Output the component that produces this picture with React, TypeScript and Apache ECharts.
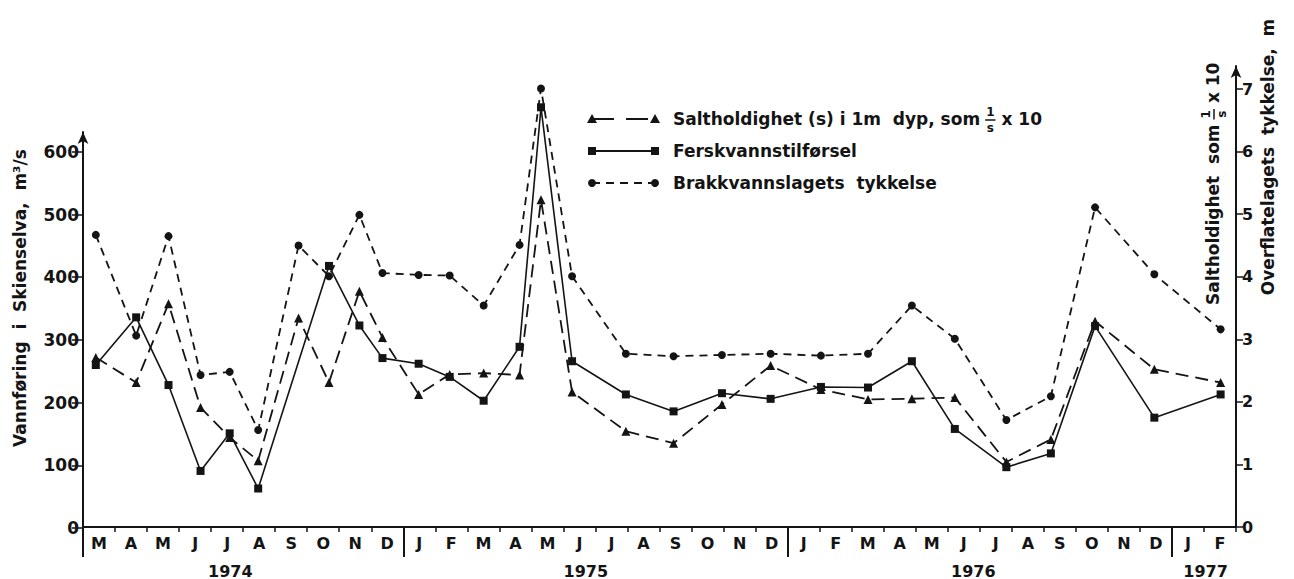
import React, { useEffect, useRef } from 'react';
import * as echarts from 'echarts';

// ---------- data ----------
const monthLetters = [
  'M', 'A', 'M', 'J', 'J', 'A', 'S', 'O', 'N', 'D',
  'J', 'F', 'M', 'A', 'M', 'J', 'J', 'A', 'S', 'O', 'N', 'D',
  'J', 'F', 'M', 'A', 'M', 'J', 'J', 'A', 'S', 'O', 'N', 'D',
  'J', 'F',
];
const yearNames = ['1974', '1975', '1976', '1977'];
const yearStartMonth = [0, 10, 22, 34];
const yearLabelMonth = [4.6, 15.7, 27.8, 35.05];
const leftTicks = [0, 100, 200, 300, 400, 500, 600];
const rightTicks = [0, 1, 2, 3, 4, 5, 6, 7];

// months elapsed since 1 March 1974 at each sampling
const sampleMonth = [
  0.4, 1.66, 2.67, 3.67, 4.58, 5.47, 6.73, 7.68, 8.63, 9.35,
  10.48, 11.45, 12.51, 13.63, 14.3, 15.27, 16.95, 18.44, 19.95, 21.47,
  23.04, 24.51, 25.88, 27.22, 28.83, 30.22, 31.6, 33.45, 35.52,
];
// Ferskvannstilførsel, m3/s (left axis)
const freshwater: (number | null)[] = [
  260, 336, 228, 91, 151, 63, null, 418, 323, 271,
  262, 241, 203, 289, 671, 266, 213, 186, 215, 206,
  225, 224, 266, 158, 97, 119, 322, 176, 213,
];
// Saltholdighet som 1/s x 10 (right axis)
const salinity = [
  2.71, 2.31, 3.57, 1.91, 1.43, 1.06, 3.34, 2.31, 3.77, 3.03,
  2.12, 2.44, 2.46, 2.43, 5.23, 2.16, 1.53, 1.34, 1.96, 2.58,
  2.2, 2.04, 2.05, 2.07, 1.04, 1.4, 3.29, 2.52, 2.31,
];
// Brakkvannslagets tykkelse, m (right axis)
const brackish = [
  4.67, 3.06, 4.65, 2.43, 2.48, 1.55, 4.5, 4.01, 4.99, 4.06,
  4.03, 4.02, 3.54, 4.51, 7.01, 4.01, 2.77, 2.73, 2.75, 2.77,
  2.74, 2.77, 3.54, 3.01, 1.71, 2.09, 5.11, 4.04, 3.16,
];

// ---------- styling ----------
const INK = '#141414';
const FONT = '"DejaVu Sans", "Liberation Sans", sans-serif';
const SALT_DASH = [13, 7];
const BRAKK_DASH = [8, 6];
const TITLE_SIZE = 17;
const AXIS_SIZE = 16;

function measure(text: string, size: number) {
  const ctx = document.createElement('canvas').getContext('2d');
  if (!ctx) return text.length * size * 0.65;
  ctx.font = `bold ${size}px "DejaVu Sans"`;
  return ctx.measureText(text).width;
}

function txt(text: string, x: number, y: number, size: number, align = 'left') {
  return {
    type: 'text',
    x,
    y,
    style: {
      text,
      fill: INK,
      fontSize: size,
      fontWeight: 'bold',
      fontFamily: FONT,
      align,
      verticalAlign: 'middle',
    },
  };
}

function fractionText(prefix: string, suffix: string, size: number, fracSize: number) {
  const w = measure(prefix, size);
  const fx = w + 5;
  const fw = Math.max(measure('s', fracSize), measure('1', fracSize)) + 2;
  return [
    txt(prefix, 0, 0, size),
    txt('1', fx + fw / 2, -7, fracSize, 'center'),
    { type: 'line', shape: { x1: fx, y1: 1, x2: fx + fw, y2: 1 }, style: { stroke: INK, lineWidth: 1.5 } },
    txt('s', fx + fw / 2, 9, fracSize, 'center'),
    txt(suffix, fx + fw + 6, 0, size),
  ];
}

function legendRow(y: number, kind: 'tri' | 'sq' | 'dot', dash: number[] | null) {
  const xa = 592;
  const xb = 655;
  const line = {
    type: 'line',
    shape: { x1: xa, y1: y, x2: xb, y2: y },
    style: { stroke: INK, lineWidth: 1.8, lineDash: dash || undefined },
  };
  const mark = (x: number) => {
    if (kind === 'tri')
      return { type: 'polygon', shape: { points: [[x, y - 5], [x - 5, y + 4], [x + 5, y + 4]] }, style: { fill: INK } };
    if (kind === 'sq')
      return { type: 'rect', shape: { x: x - 4, y: y - 4, width: 8, height: 8 }, style: { fill: INK } };
    return { type: 'circle', shape: { cx: x, cy: y, r: 4 }, style: { fill: INK } };
  };
  return [line, mark(xa), mark(xb)];
}

function buildOption() {
  const monthBounds = monthLetters.map((_, i) => i).concat([monthLetters.length]);
  const monthMids = monthLetters.map((_, i) => i + 0.5);

  const axisText = { color: INK, fontSize: AXIS_SIZE, fontWeight: 'bold', fontFamily: FONT };
  const axisLineStyle = { color: INK, width: 2 };

  const freshData = sampleMonth
    .map((m, i) => [m, freshwater[i]])
    .filter((p) => p[1] !== null);

  return {
    animation: false,
    backgroundColor: '#ffffff',
    textStyle: { fontFamily: FONT },
    grid: [
      { left: 83, right: 58, top: 66, bottom: 51 },
      { left: 83, right: 58, top: 132, bottom: 51 },
    ],
    xAxis: [
      {
        gridIndex: 0,
        type: 'value',
        min: 0,
        max: 36,
        position: 'bottom',
        axisLine: { show: true, onZero: false, lineStyle: axisLineStyle },
        axisTick: { show: true, customValues: monthBounds, length: 5, lineStyle: { color: INK, width: 1.5 } },
        axisLabel: {
          ...axisText,
          customValues: monthMids,
          margin: 8,
          formatter: (v: number) => monthLetters[Math.floor(v)] || '',
        },
        splitLine: { show: false },
      },
      {
        gridIndex: 0,
        type: 'value',
        min: 0,
        max: 36,
        position: 'bottom',
        axisLine: { show: false },
        axisTick: { show: true, customValues: yearStartMonth, length: 30, lineStyle: { color: INK, width: 2 } },
        axisLabel: {
          ...axisText,
          customValues: yearLabelMonth,
          margin: 36,
          formatter: (v: number) => {
            let best = 0;
            yearLabelMonth.forEach((p, j) => {
              if (Math.abs(p - v) < Math.abs(yearLabelMonth[best] - v)) best = j;
            });
            return yearNames[best];
          },
        },
        splitLine: { show: false },
      },
      { gridIndex: 1, type: 'value', min: 0, max: 36, show: false },
    ],
    yAxis: [
      {
        gridIndex: 0,
        type: 'value',
        position: 'right',
        min: 0,
        max: 7.37,
        axisLine: { show: true, onZero: false, symbol: ['none', 'arrow'], symbolSize: [8, 12], lineStyle: axisLineStyle },
        axisTick: { show: true, customValues: rightTicks, length: 7, lineStyle: { color: INK, width: 1.5 } },
        axisLabel: { ...axisText, customValues: rightTicks, margin: 6 },
        splitLine: { show: false },
      },
      {
        gridIndex: 1,
        type: 'value',
        position: 'left',
        min: 0,
        max: 631.6,
        axisLine: { show: true, onZero: false, symbol: ['none', 'arrow'], symbolSize: [8, 12], lineStyle: axisLineStyle },
        axisTick: { show: true, customValues: leftTicks, length: 11, lineStyle: { color: INK, width: 1.5 } },
        axisLabel: { ...axisText, fontSize: 17, customValues: leftTicks, margin: 4 },
        splitLine: { show: false },
      },
    ],
    series: [
      {
        name: 'Brakkvannslagets tykkelse',
        type: 'line',
        xAxisIndex: 0,
        yAxisIndex: 0,
        data: sampleMonth.map((m, i) => [m, brackish[i]]),
        symbol: 'circle',
        symbolSize: 8,
        clip: false,
        lineStyle: { color: INK, width: 1.8, type: BRAKK_DASH },
        itemStyle: { color: INK },
        z: 2,
      },
      {
        name: 'Saltholdighet',
        type: 'line',
        xAxisIndex: 0,
        yAxisIndex: 0,
        data: sampleMonth.map((m, i) => [m, salinity[i]]),
        symbol: 'triangle',
        symbolSize: 9,
        clip: false,
        lineStyle: { color: INK, width: 1.8, type: SALT_DASH },
        itemStyle: { color: INK },
        z: 3,
      },
      {
        name: 'Ferskvannstilførsel',
        type: 'line',
        xAxisIndex: 2,
        yAxisIndex: 1,
        data: freshData,
        symbol: 'rect',
        symbolSize: 8,
        clip: false,
        lineStyle: { color: INK, width: 1.6 },
        itemStyle: { color: INK },
        z: 4,
      },
    ],
    graphic: [
      // legend
      ...legendRow(119, 'tri', [22, 12]),
      { type: 'group', x: 673, y: 119, children: fractionText('Saltholdighet (s) i 1m  dyp, som', 'x 10', TITLE_SIZE, 12) },
      ...legendRow(151, 'sq', null),
      txt('Ferskvannstilførsel', 673, 151, TITLE_SIZE),
      ...legendRow(183, 'dot', [8, 6]),
      txt('Brakkvannslagets  tykkelse', 673, 183, TITLE_SIZE),
      // axis titles
      {
        type: 'text',
        x: 20,
        y: 298,
        rotation: Math.PI / 2,
        style: {
          text: 'Vannføring  i  Skienselva,  m³/s',
          fill: INK,
          fontSize: TITLE_SIZE,
          fontWeight: 'bold',
          fontFamily: FONT,
          align: 'center',
          verticalAlign: 'middle',
        },
      },
      {
        type: 'group',
        x: 1213,
        y: 305,
        rotation: Math.PI / 2,
        children: fractionText('Saltholdighet  som', 'x 10', TITLE_SIZE, 12),
      },
      {
        type: 'text',
        x: 1268,
        y: 157,
        rotation: Math.PI / 2,
        style: {
          text: 'Overflatelagets  tykkelse,  m',
          fill: INK,
          fontSize: TITLE_SIZE,
          fontWeight: 'bold',
          fontFamily: FONT,
          align: 'center',
          verticalAlign: 'middle',
        },
      },
    ],
  };
}

export default function App() {
  const ref = useRef<HTMLDivElement>(null);
  useEffect(() => {
    document.body.style.margin = '0';
    const chart = echarts.init(ref.current as HTMLDivElement, null, { renderer: 'svg' });
    chart.setOption(buildOption() as any);
    return () => chart.dispose();
  }, []);
  return <div ref={ref} style={{ width: 1294, height: 579 }} />;
}
